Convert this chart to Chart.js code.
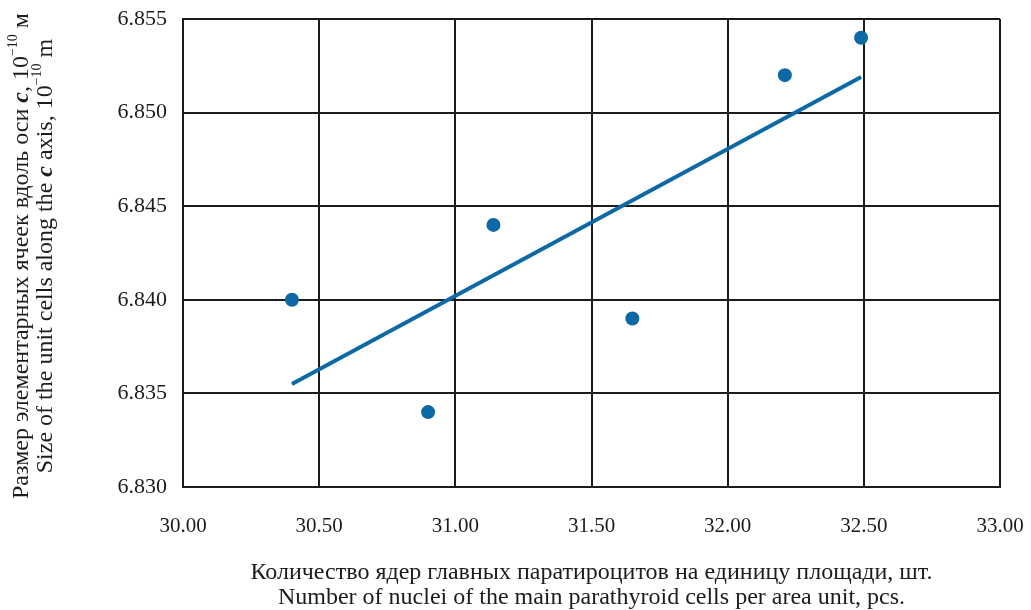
<!DOCTYPE html>
<html>
<head>
<meta charset="utf-8">
<script src="https://cdn.jsdelivr.net/npm/chart.js@4/dist/chart.umd.min.js"></script>
<style>
  html, body { margin: 0; padding: 0; background: #ffffff; }
  #c { display: block; }
</style>
</head>
<body>
<canvas id="c" width="1031" height="610"></canvas>
<script>
// Measured specimens: nuclei count per area unit vs. unit-cell size along c
const nucleiCounts = [30.40, 30.90, 31.14, 31.65, 32.21, 32.49];
const cellSizeC   = [6.840, 6.834, 6.844, 6.839, 6.852, 6.854];

// Linear trend line endpoints
const trendX = [30.40, 32.49];
const trendY = [6.8355, 6.8519];

// Axis tick values
const xTicks = [30.0, 30.5, 31.0, 31.5, 32.0, 32.5, 33.0];
const yTicks = [6.830, 6.835, 6.840, 6.845, 6.850, 6.855];

const SERIF = '"Liberation Serif", "Times New Roman", serif';
const INK = '#1c1c1c';
const BLUE = '#0c69a6';

const points = nucleiCounts.map((x, i) => ({ x, y: cellSizeC[i] }));
const trend = trendX.map((x, i) => ({ x, y: trendY[i] }));

// Draw a line of text made of differently styled runs (regular, bold italic, superscript)
function drawRuns(ctx, runs, cx, cy) {
  let total = 0;
  runs.forEach(r => { ctx.font = r.font; total += ctx.measureText(r.text).width; });
  let x = cx - total / 2;
  runs.forEach(r => {
    ctx.font = r.font;
    ctx.fillText(r.text, x, cy + (r.dy || 0));
    x += ctx.measureText(r.text).width;
  });
}

const REG = '24px ' + SERIF;
const BI = 'italic bold 24px ' + SERIF;
const SUP = '14px ' + SERIF;

const yTitleLines = [
  [
    { text: 'Размер элементарных ячеек вдоль оси ', font: REG },
    { text: 'c', font: BI },
    { text: ', 10', font: REG },
    { text: '−10', font: SUP, dy: -9 },
    { text: ' м', font: REG }
  ],
  [
    { text: 'Size of the unit cells along the ', font: REG },
    { text: 'c', font: BI },
    { text: ' axis, 10', font: REG },
    { text: '−10', font: SUP, dy: -9 },
    { text: ' m', font: REG }
  ]
];
const xTitleLines = [
  [{ text: 'Количество ядер главных паратироцитов на единицу площади, шт.', font: REG }],
  [{ text: 'Number of nuclei of the main parathyroid cells per area unit, pcs.', font: REG }]
];

const axisTitles = {
  id: 'axisTitles',
  afterDraw(chart) {
    const ctx = chart.ctx;
    const a = chart.chartArea;
    ctx.save();
    ctx.fillStyle = INK;
    ctx.textBaseline = 'middle';
    ctx.textAlign = 'left';
    const midX = (a.left + a.right) / 2;
    drawRuns(ctx, xTitleLines[0], midX, 573);
    drawRuns(ctx, xTitleLines[1], midX, 598);
    const midY = (a.top + a.bottom) / 2;
    [22, 46].forEach((px, i) => {
      ctx.save();
      ctx.translate(px, midY + 3);
      ctx.rotate(-Math.PI / 2);
      drawRuns(ctx, yTitleLines[i], 0, 0);
      ctx.restore();
    });
    ctx.restore();
  }
};

new Chart(document.getElementById('c'), {
  data: {
    datasets: [
      {
        type: 'scatter',
        data: points,
        pointRadius: 7,
        pointHoverRadius: 7,
        pointBackgroundColor: BLUE,
        pointBorderWidth: 0,
        order: 1
      },
      {
        type: 'line',
        data: trend,
        borderColor: BLUE,
        borderWidth: 4,
        pointRadius: 0,
        fill: false,
        tension: 0,
        order: 2
      }
    ]
  },
  options: {
    responsive: false,
    animation: false,
    devicePixelRatio: 1,
    layout: { padding: { left: 0, right: 31, top: 19, bottom: 0 } },
    plugins: { legend: { display: false }, tooltip: { enabled: false } },
    scales: {
      x: {
        type: 'linear',
        min: 30,
        max: 33,
        afterBuildTicks: s => { s.ticks = xTicks.map(v => ({ value: v })); },
        afterFit: s => { s.height = 123; s.paddingLeft = 0; s.paddingRight = 0; },
        ticks: {
          callback: v => Number(v).toFixed(2),
          font: { family: SERIF, size: 21 },
          color: INK,
          padding: 27,
          maxRotation: 0
        },
        grid: { color: INK, lineWidth: 2, drawTicks: false },
        border: { color: INK, width: 2 }
      },
      y: {
        type: 'linear',
        min: 6.830,
        max: 6.855,
        afterBuildTicks: s => { s.ticks = yTicks.map(v => ({ value: v })); },
        afterFit: s => { s.width = 183; s.paddingTop = 0; s.paddingBottom = 0; },
        ticks: {
          callback: v => Number(v).toFixed(3),
          font: { family: SERIF, size: 22 },
          color: INK,
          padding: 16
        },
        grid: { color: INK, lineWidth: 2, drawTicks: false },
        border: { color: INK, width: 2 }
      }
    }
  },
  plugins: [axisTitles]
});
</script>
</body>
</html>
